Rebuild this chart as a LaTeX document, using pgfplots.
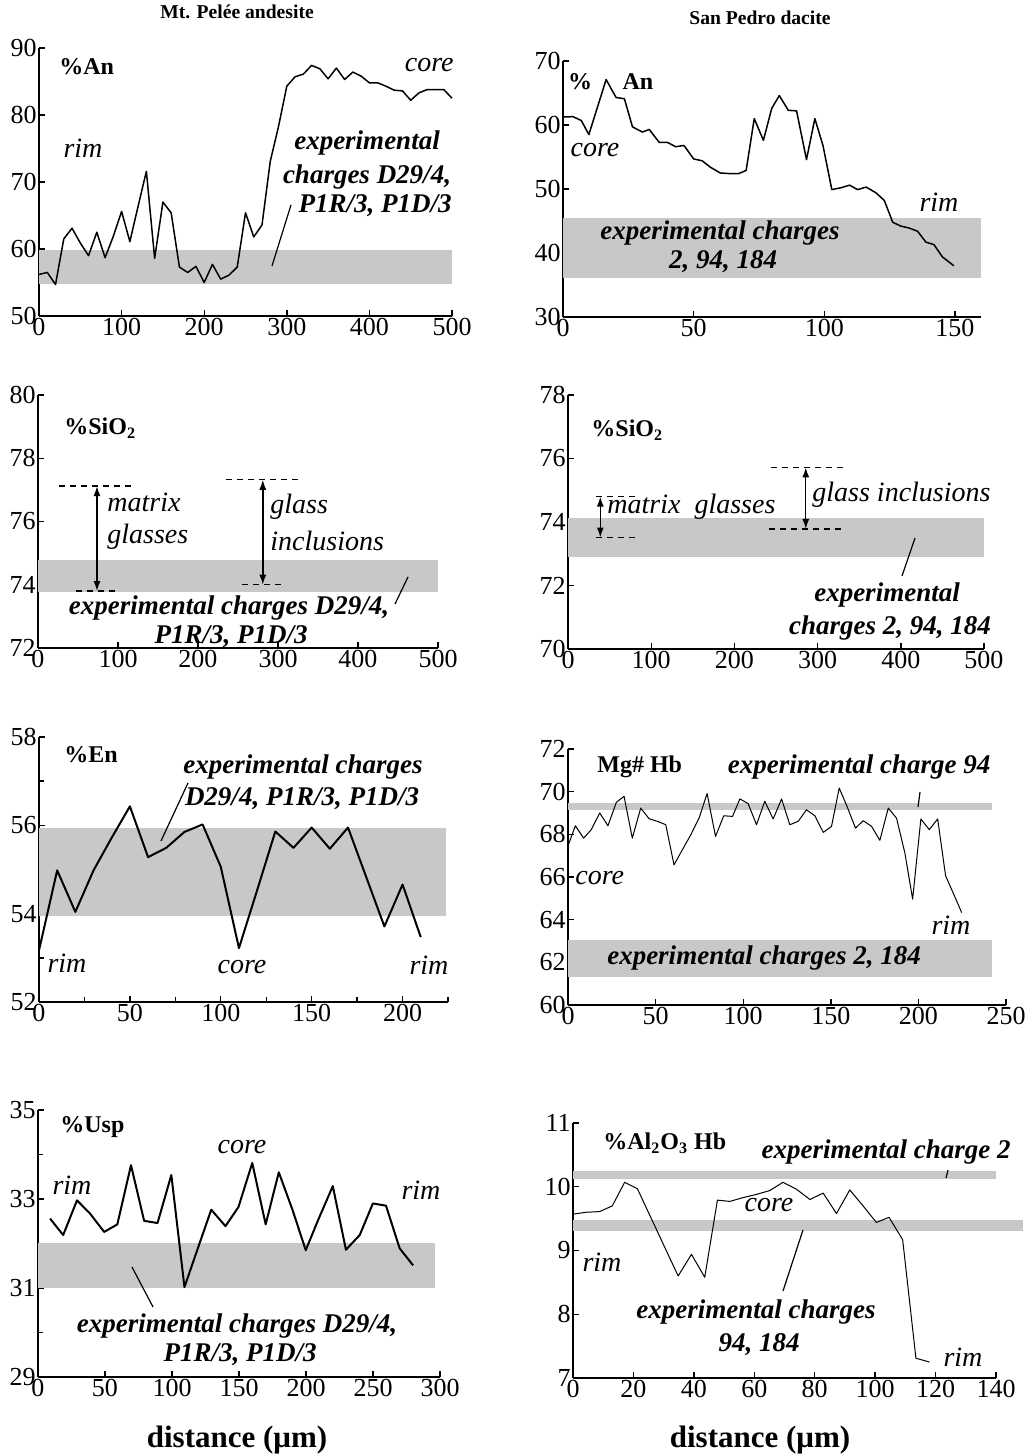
\documentclass[border=0pt]{standalone}
\usepackage{pgfplots}
\pgfplotsset{compat=1.18}
\usepackage{fontspec}
\setmainfont{Liberation Serif}
\usetikzlibrary{arrows.meta}
\definecolor{band}{RGB}{200,200,200}
\pgfplotsset{
 panel/.style={scale only axis, axis lines*=left, anchor=south west, clip=false,
   axis line style={line width=0.9pt},
   tick align=inside, major tick length=3pt, minor tick length=2.5pt,
   every tick/.style={line width=0.7pt, black},
   tick label style={font=\fontsize{13}{13}\selectfont},
   /pgf/number format/assume math mode=true,
   xticklabel style={inner sep=1pt}, yticklabel style={inner sep=1pt}},
 prof/.style={black, line width=0.75pt, mark=none, line join=round},
 bnd/.style={fill=band, draw=none, forget plot},
 dsh/.style={black, line width=0.7pt, dash pattern=on 3pt off 2.5pt, mark=none},
}
\tikzset{
 it/.style={font=\fontsize{14}{14}\selectfont\itshape, inner sep=0pt},
 bi/.style={font=\fontsize{13.5}{14}\selectfont\bfseries\itshape, inner sep=0pt},
 lab/.style={font=\fontsize{12}{12}\selectfont\bfseries, inner sep=0pt},
 arr/.style={{Latex[length=5pt,width=3.5pt]}-{Latex[length=5pt,width=3.5pt]}, line width=0.7pt},
}
\begin{document}
\begin{tikzpicture}
\path[use as bounding box] (0,0) rectangle (512pt,727.5pt);

% ---------- Panel 1: %An Mt Pelee
\begin{axis}[panel, at={(19.5pt,569.5pt)}, width=206.5pt, height=134pt,
  xmin=0, xmax=500, ymin=50, ymax=90, xtick={0,100,...,500}, ytick={50,60,...,90}]
\addplot[bnd] coordinates {(0,54.8) (500,54.8) (500,59.8) (0,59.8)} -- cycle;
\addplot[prof] coordinates {
(0,56.2) (10,56.5) (20,54.7) (30,61.5) (40,63.1) (50,60.9) (60,59.0) (70,62.5) (80,58.7) (90,61.9)
(100,65.6) (110,61.1) (120,66.4) (130,71.6) (140,58.6) (150,67.0) (160,65.4) (170,57.3) (180,56.5) (190,57.4)
(200,55.0) (210,57.7) (220,55.5) (230,56.1) (240,57.3) (250,65.4) (260,61.8) (270,63.6) (280,73.1) (290,78.3)
(300,84.3) (310,85.7) (320,86.1) (330,87.4) (340,86.9) (350,85.4) (360,87.0) (370,85.3) (380,86.4) (390,85.8)
(400,84.8) (410,84.8) (420,84.3) (430,83.7) (440,83.6) (450,82.2) (460,83.3) (470,83.8) (480,83.8) (490,83.8) (500,82.5)};
\end{axis}

% ---------- Panel 2: %An San Pedro
\begin{axis}[panel, at={(281.5pt,569pt)}, width=209pt, height=128pt,
  xmin=0, xmax=160, ymin=30, ymax=70, xtick={0,50,100,150}, ytick={30,40,...,70}]
\addplot[bnd] coordinates {(0,36.1) (160,36.1) (160,45.4) (0,45.4)} -- cycle;
\addplot[prof] coordinates {
(0,61.25) (3.8,61.3) (7,60.7) (9.9,58.5) (16.5,67.1) (20.3,64.3) (23.5,64.1) (26.6,59.7) (30.4,58.9) (33,59.3)
(36.8,57.3) (39.9,57.3) (43.1,56.6) (46.3,56.8) (50,54.7) (53.3,54.4) (56.4,53.4) (60.2,52.5) (64,52.4) (67.2,52.4)
(70.1,52.9) (73.2,61.0) (76.7,57.6) (79.9,62.6) (82.8,64.6) (86.2,62.3) (89.4,62.2) (93.2,54.6) (96.4,61.0) (99.5,56.8)
(102.9,49.9) (106.5,50.2) (109.7,50.6) (112.8,49.9) (116,50.3) (119.8,49.4) (123,48.2) (126.2,44.8) (129.3,44.2)
(132.5,43.9) (135.7,43.4) (138.9,41.7) (142,41.3) (145.2,39.4) (149.6,38.0)};
\end{axis}

% ---------- Panel 3: %SiO2 Mt Pelee
\begin{axis}[panel, at={(19pt,403.5pt)}, width=200pt, height=126.5pt,
  xmin=0, xmax=500, ymin=72, ymax=80, xtick={0,100,...,500}, ytick={72,74,...,80}]
\addplot[bnd] coordinates {(0,73.76) (500,73.76) (500,74.78) (0,74.78)} -- cycle;
\addplot[dsh] coordinates {(26,77.12) (117,77.12)};
\addplot[dsh] coordinates {(48,73.8) (99,73.8)};
\addplot[dsh] coordinates {(235,77.32) (325,77.32)};
\addplot[dsh] coordinates {(255,74.0) (306,74.0)};
\draw[arr] (axis cs:73.75,77.12) -- (axis cs:73.75,73.8);
\draw[arr] (axis cs:281,77.32) -- (axis cs:281,74.0);
\end{axis}

% ---------- Panel 4: %SiO2 San Pedro
\begin{axis}[panel, at={(284pt,403pt)}, width=208pt, height=127pt,
  xmin=0, xmax=500, ymin=70, ymax=78, xtick={0,100,...,500}, ytick={70,72,...,78}]
\addplot[bnd] coordinates {(0,72.91) (500,72.91) (500,74.14) (0,74.14)} -- cycle;
\addplot[dsh] coordinates {(34,74.8) (84,74.8)};
\addplot[dsh] coordinates {(34,73.51) (84,73.51)};
\addplot[dsh] coordinates {(244,75.72) (331,75.72)};
\addplot[dsh] coordinates {(241,73.78) (328,73.78)};
\draw[arr] (axis cs:38.8,74.8) -- (axis cs:38.8,73.51);
\draw[arr] (axis cs:285.8,75.72) -- (axis cs:285.8,73.78);
\end{axis}

% ---------- Panel 5: %En
\begin{axis}[panel, at={(19.5pt,226.5pt)}, width=204.5pt, height=132.5pt,
  xmin=0, xmax=225, ymin=52, ymax=58, xtick={0,50,...,200}, minor xtick={25,75,...,225},
  ytick={52,54,56,58}, minor ytick={53,55,57}]
\addplot[bnd] coordinates {(0,53.95) (224,53.95) (224,55.95) (0,55.95)} -- cycle;
\addplot[prof, line width=1pt] coordinates {
(0,53.17) (10,54.98) (20,54.04) (30,54.98) (40,55.72) (50,56.43) (60,55.28) (70,55.49) (80,55.85) (90,56.02)
(100,55.06) (110,53.22) (120,54.53) (130,55.86) (140,55.49) (150,55.95) (160,55.47) (170,55.95) (180,54.83)
(190,53.71) (200,54.66) (210,53.47)};
\end{axis}

% ---------- Panel 6: Mg# Hb
\begin{axis}[panel, at={(284pt,225pt)}, width=219pt, height=128pt,
  xmin=0, xmax=250, ymin=60, ymax=72, xtick={0,50,...,250}, ytick={60,62,...,72}]
\addplot[bnd] coordinates {(0,69.15) (242,69.15) (242,69.47) (0,69.47)} -- cycle;
\addplot[bnd] coordinates {(0,61.33) (242,61.33) (242,63.05) (0,63.05)} -- cycle;
\addplot[prof, line width=0.5pt] coordinates {
(0,67.46) (4.2,68.40) (8.9,67.82) (13.3,68.22) (18.1,69.0) (22.8,68.40) (27.6,69.5) (32,69.78) (36.7,67.82)
(41.5,69.23) (46.3,68.73) (51,68.61) (55.8,68.45) (60.5,66.57) (65.3,67.28) (70.1,67.98) (74.8,68.76) (79.4,69.91)
(84.2,67.90) (88.9,68.87) (93.9,68.84) (98.1,69.66) (102.8,69.44) (107.6,68.45) (112.3,69.55) (117.1,68.72)
(121.9,69.66) (126.6,68.45) (131.4,68.61) (136.1,69.15) (140.9,68.87) (145.7,68.09) (150.4,68.37) (154.8,70.17)
(159.4,69.28) (164.1,68.29) (168.5,68.64) (173.3,68.37) (178,67.72) (182.8,69.23) (187.5,68.76) (192.3,67.12)
(196.7,64.96) (201.4,68.72) (206.2,68.22) (211,68.72) (215.5,66.06) (219.9,65.24) (224.7,64.33)};
\end{axis}

% ---------- Panel 7: %Usp
\begin{axis}[panel, at={(19pt,39pt)}, width=201pt, height=133.5pt,
  xmin=0, xmax=300, ymin=29, ymax=35, xtick={0,50,...,300}, ytick={29,31,33,35}, minor ytick={30,32,34}]
\addplot[bnd] coordinates {(0,31.0) (296,31.0) (296,32.02) (0,32.02)} -- cycle;
\addplot[prof, line width=1pt] coordinates {
(9,32.56) (18.8,32.19) (29.1,32.97) (38.9,32.67) (49.4,32.26) (59.2,32.43) (69.4,33.76) (79.2,32.51) (89.2,32.46)
(99.5,33.54) (109.3,31.02) (119.6,31.92) (129.3,32.76) (139.9,32.39) (149.6,32.82) (159.9,33.81) (169.9,32.43)
(179.7,33.60) (190,32.75) (199.8,31.85) (209.5,32.56) (220,33.29) (229.8,31.86) (240.1,32.19) (249.9,32.90)
(259.7,32.85) (269.9,31.89) (279.9,31.51)};
\end{axis}

% ---------- Panel 8: %Al2O3 Hb
\begin{axis}[panel, at={(286.5pt,38.5pt)}, width=211.5pt, height=127.5pt,
  xmin=0, xmax=140, ymin=7, ymax=11, xtick={0,20,...,140}, ytick={7,8,...,11}]
\addplot[bnd] coordinates {(0,10.12) (140,10.12) (140,10.24) (0,10.24)} -- cycle;
\addplot[bnd] coordinates {(0,9.30) (149,9.30) (149,9.48) (0,9.48)} -- cycle;
\addplot[prof, line width=0.5pt] coordinates {
(0,9.57) (4.4,9.60) (8.8,9.61) (13,9.70) (17.1,10.07) (21.3,9.97) (34.8,8.60) (39.2,8.94) (43.6,8.58) (47.8,9.79)
(51.9,9.77) (56.3,9.83) (60.7,9.88) (65.1,9.94) (69.5,10.07) (74,9.96) (78.4,9.80) (82.8,9.90) (87.2,9.58)
(91.6,9.95) (96,9.70) (100.4,9.44) (104.6,9.52) (109.1,9.17) (113.5,7.31) (118,7.25)};
\end{axis}

% ---------- annotations in pixel coordinates
\begin{scope}[x=0.5pt, y=-0.5pt, shift={(0pt,727.5pt)}]
\node[font=\fontsize{9.8}{10}\selectfont\bfseries, inner sep=0pt] at (237,12) {Mt. Pelée andesite};
\node[font=\fontsize{9.8}{10}\selectfont\bfseries, inner sep=0pt] at (760,18) {San Pedro dacite};
\node[font=\fontsize{15.5}{16}\selectfont\bfseries, inner sep=0pt] at (237,1440) {distance (μm)};
\node[font=\fontsize{15.5}{16}\selectfont\bfseries, inner sep=0pt] at (760,1440) {distance (μm)};
% panel 1
\node[lab, anchor=west] at (59,67) {\%An};
\node[it, anchor=east] at (454,65) {core};
\node[it] at (83,148) {rim};
\node[bi] at (367,143) {experimental};
\node[bi] at (367,177) {charges D29/4,};
\node[bi] at (375,206) {P1R/3, P1D/3};
\draw[line width=0.6pt] (272,266) -- (291,205);
% panel 2
\node[lab] at (580,82) {\%};
\node[lab] at (638,82) {An};
\node[it] at (595,150) {core};
\node[it] at (939,202) {rim};
\node[bi] at (720,233) {experimental charges};
\node[bi] at (723,262) {2, 94, 184};
% panel 3
\node[lab, anchor=west] at (64,428) {\%SiO\textsubscript{2}};
\node[it, anchor=west] at (107,502) {matrix};
\node[it, anchor=west] at (107,537) {glasses};
\node[it, anchor=west] at (270,507) {glass};
\node[it, anchor=west] at (270,541) {inclusions};
\node[bi] at (229,608) {experimental charges D29/4,};
\node[bi] at (231,637) {P1R/3, P1D/3};
\draw[line width=0.6pt] (395,604) -- (408,577);
% panel 4
\node[lab, anchor=west] at (591,430) {\%SiO\textsubscript{2}};
\node[it, anchor=west] at (607,507) {matrix\ \ glasses};
\node[it, anchor=west] at (812,495) {glass inclusions};
\node[bi] at (887,595) {experimental};
\node[bi] at (890,628) {charges 2, 94, 184};
\draw[line width=0.6pt] (902,576) -- (915,538);
% panel 5
\node[lab, anchor=west] at (64,755) {\%En};
\node[bi] at (303,767) {experimental charges};
\node[bi] at (302,799) {D29/4, P1R/3, P1D/3};
\draw[line width=0.6pt] (161,841) -- (188,783);
\node[it] at (67,963) {rim};
\node[it] at (242,967) {core};
\node[it] at (429,965) {rim};
% panel 6
\node[lab, anchor=west] at (597,767) {Mg\# Hb};
\node[bi] at (859,767) {experimental charge 94};
\node[it, anchor=west] at (575,878) {core};
\node[it] at (951,925) {rim};
\node[bi] at (764,958) {experimental charges 2, 184};
\draw[line width=0.6pt] (918,807) -- (920,792);
% panel 7
\node[lab, anchor=west] at (60,1127) {\%Usp};
\node[it] at (242,1147) {core};
\node[it] at (72,1185) {rim};
\node[it] at (421,1190) {rim};
\draw[line width=0.6pt] (132,1267) -- (153,1307);
\node[bi] at (237,1326) {experimental charges D29/4,};
\node[bi] at (240,1355) {P1R/3, P1D/3};
% panel 8
\node[lab, anchor=west] at (603,1143) {\%Al\textsubscript{2}O\textsubscript{3} Hb};
\node[bi] at (886,1152) {experimental charge 2};
\node[it] at (769,1205) {core};
\node[it] at (602,1262) {rim};
\node[bi] at (756,1312) {experimental charges};
\node[bi] at (759,1345) {94, 184};
\node[it] at (963,1357) {rim};
\draw[line width=0.6pt] (946,1178) -- (948,1170);
\draw[line width=0.6pt] (803,1230) -- (783,1291);
\end{scope}
\end{tikzpicture}
\end{document}
